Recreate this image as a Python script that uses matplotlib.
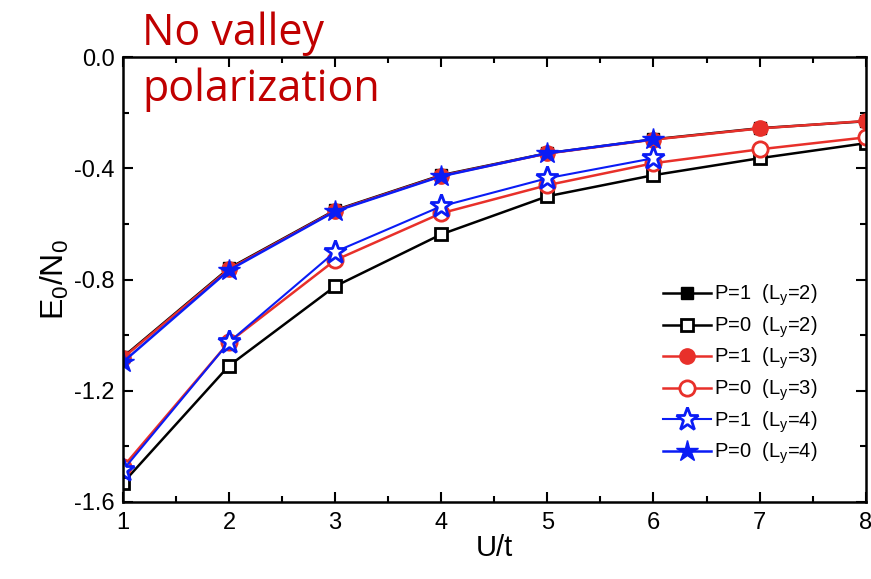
import matplotlib
matplotlib.use('Agg')
import matplotlib.pyplot as plt
from matplotlib.ticker import MultipleLocator

plt.rcParams['font.family'] = ['Liberation Sans', 'DejaVu Sans']
plt.rcParams['axes.unicode_minus'] = False

# U/t values
U = [1, 2, 3, 4, 5, 6, 7, 8]
U4 = [1, 2, 3, 4, 5, 6]

# energies per site E0/N0
p1_ly2 = [-1.079, -0.759, -0.550, -0.424, -0.345, -0.295, -0.255, -0.230]
p0_ly2 = [-1.532, -1.110, -0.824, -0.637, -0.500, -0.424, -0.363, -0.309]
p1_ly3 = [-1.082, -0.762, -0.552, -0.426, -0.346, -0.296, -0.256, -0.229]
p0_ly3 = [-1.475, -1.025, -0.730, -0.561, -0.460, -0.381, -0.331, -0.288]
p1_ly4 = [-1.486, -1.025, -0.700, -0.536, -0.435, -0.363]
p0_ly4 = [-1.097, -0.766, -0.554, -0.428, -0.345, -0.295]

fig = plt.figure(figsize=(8.71, 5.79), dpi=100)
ax = fig.add_axes([0.141, 0.133, 0.853, 0.768])

lw = 1.8
sub = lambda s: '$_\\mathregular{%s}$' % s
ax.plot(U, p1_ly2, '-s', color='black', mfc='black', mec='black', ms=9, lw=lw, label='P=1  (L' + sub('y') + '=2)')
ax.plot(U, p0_ly2, '-s', color='black', mfc='white', mec='black', mew=2, ms=9, lw=lw, label='P=0  (L' + sub('y') + '=2)')
ax.plot(U, p1_ly3, '-o', color='#e8302a', mfc='#e8302a', mec='#e8302a', ms=11, lw=lw, label='P=1  (L' + sub('y') + '=3)')
ax.plot(U, p0_ly3, '-o', color='#e8302a', mfc='white', mec='#e8302a', mew=2, ms=11, lw=lw, label='P=0  (L' + sub('y') + '=3)')
ax.plot(U4, p1_ly4, '-*', color='#0a1cf5', mfc='white', mec='#0a1cf5', mew=2, ms=17, lw=1.5, label='P=1  (L' + sub('y') + '=4)')
ax.plot(U4, p0_ly4, '-*', color='#0a1cf5', mfc='#0a1cf5', mec='#0a1cf5', ms=16, lw=lw, label='P=0  (L' + sub('y') + '=4)')

ax.set_xlim(1, 8)
ax.set_ylim(-1.6, 0.0)
ax.xaxis.set_major_locator(MultipleLocator(1))
ax.xaxis.set_minor_locator(MultipleLocator(0.5))
ax.yaxis.set_major_locator(MultipleLocator(0.4))
ax.yaxis.set_minor_locator(MultipleLocator(0.2))
ax.tick_params(which='both', direction='in', top=True, right=True, width=1.5, labelsize=17)
ax.tick_params(which='major', length=7)
ax.tick_params(which='minor', length=4)
ax.tick_params(axis='x', pad=7)
ax.tick_params(axis='y', pad=6)
for s in ax.spines.values():
    s.set_linewidth(1.8)

ax.set_xlabel('U/t', fontsize=21, labelpad=0)
ax.set_ylabel('E' + sub('0') + '/N' + sub('0'), fontsize=23, labelpad=2)

ax.legend(loc='lower right', bbox_to_anchor=(0.96, 0.04), frameon=False, fontsize=14.5,
          handlelength=2.4, labelspacing=0.3, handletextpad=0.15)

fig.text(0.163, 0.922, 'No valley', color='#c00000', fontsize=31, va='baseline',
         family=['Open Sans', 'DejaVu Sans'])
fig.text(0.163, 0.826, 'polarization', color='#c00000', fontsize=31, va='baseline',
         family=['Open Sans', 'DejaVu Sans'])

fig.savefig('out.png', dpi=100)
